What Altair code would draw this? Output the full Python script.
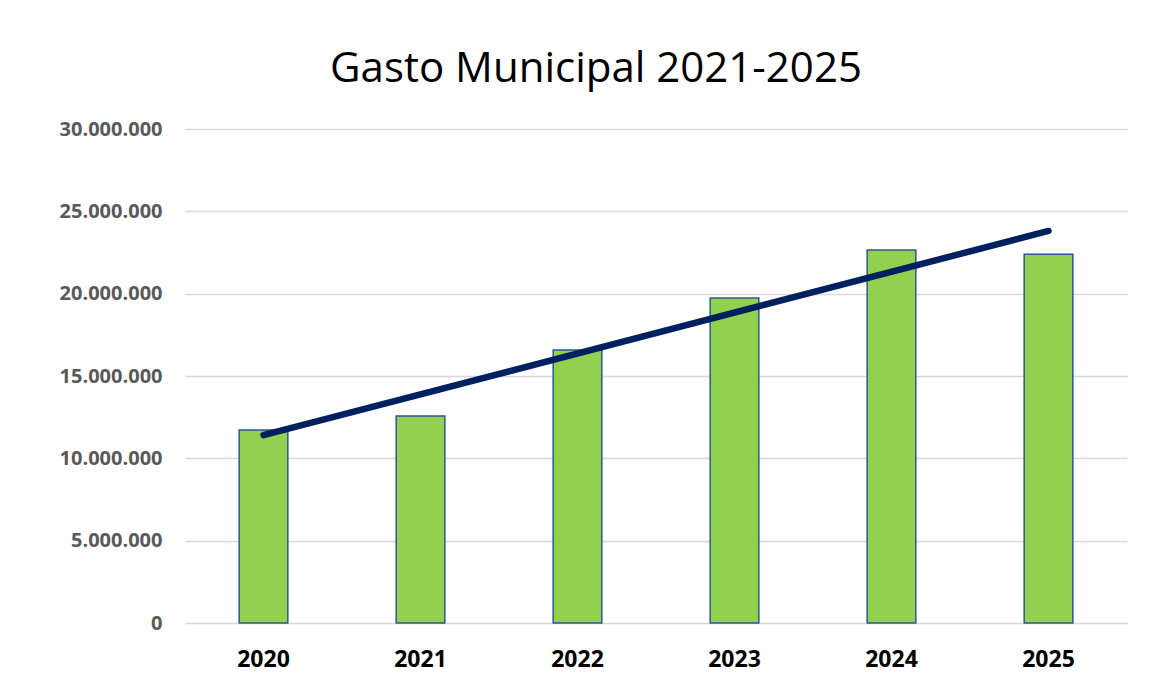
import altair as alt
import pandas as pd

years = [2020, 2021, 2022, 2023, 2024, 2025]
gasto = [11720000, 12570000, 16580000, 19730000, 22650000, 22400000]

df = pd.DataFrame({"Año": years, "Gasto": gasto})

x_enc = alt.X("Año:O", title=None,
              scale=alt.Scale(paddingInner=0.69, paddingOuter=0.345),
              axis=alt.Axis(labelAngle=0, labelFont="Open Sans", labelFontSize=23,
                            labelFontWeight="bold", labelColor="#000000",
                            labelPadding=25, ticks=False, domain=False, grid=False))
y_enc = alt.Y("Gasto:Q", title=None,
              scale=alt.Scale(domain=[0, 30000000]),
              axis=alt.Axis(values=[0, 5000000, 10000000, 15000000, 20000000, 25000000, 30000000],
                            format=",d", labelFont="Open Sans", labelFontSize=20,
                            labelFontWeight="bold", labelColor="#595959",
                            labelPadding=23, ticks=False, domain=False,
                            gridColor="#d9d9d9", gridWidth=1.5))

base = alt.Chart(df)

bars = base.mark_bar(color="#92D050", stroke="#2F5597", strokeWidth=1.5).encode(x=x_enc, y=y_enc)

trend = base.transform_regression("Año", "Gasto").mark_line(
    color="#002060", strokeWidth=6.5, strokeCap="round"
).encode(x=alt.X("Año:O"), y=alt.Y("Gasto:Q"))

chart = alt.layer(bars, trend).properties(
    width=942, height=494,
    title=alt.TitleParams("Gasto Municipal 2021-2025", font="Open Sans", fontSize=42,
                          fontWeight="normal", color="#000000", offset=28, dx=-60),
    autosize=alt.AutoSizeParams(type="none"),
    padding={"left": 177, "top": 121, "right": 19, "bottom": 49},
).configure(
    locale={"number": {"decimal": ",", "thousands": ".", "grouping": [3], "currency": ["", " €"]}},
    background="white",
).configure_view(stroke=None)

chart.save("out.html", embed_options={"renderer": "svg", "actions": False})
